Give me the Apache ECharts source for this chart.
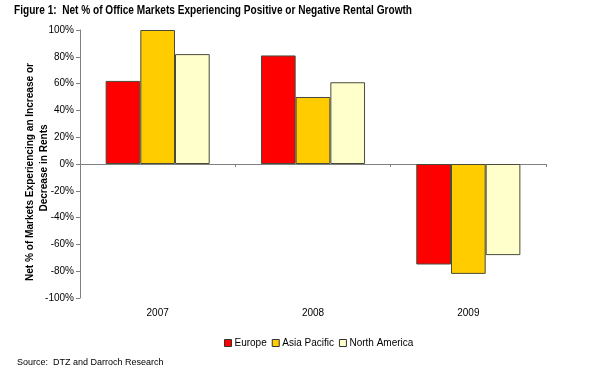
<!DOCTYPE html>
<html><head><meta charset="utf-8">
<script src="https://cdn.jsdelivr.net/npm/echarts@6/dist/echarts.min.js"></script>
<style>html,body{margin:0;padding:0;background:#fff}#c{width:600px;height:369px}</style>
</head><body><div id="c"></div>
<script>
var categories = ['2007', '2008', '2009'];
var europe = [62, 81, -75];
var asiaPacific = [100, 50, -82];
var northAmerica = [82, 61, -68];
var yTicks = [-100, 100, 20];
var titleText = 'Figure 1:  Net % of Office Markets Experiencing Positive or Negative Rental Growth';
var yNameLines = ['Net % of Markets Experiencing an Increase or', 'Decrease in Rents'];

var ctx = document.createElement('canvas').getContext('2d');
function fitScale(text, font, target) { ctx.font = font; return target / ctx.measureText(text).width; }
var titleFont = 'bold 13px "Liberation Sans"';
var titleScale = fitScale(titleText, titleFont, 398);
var nameFont = 'bold 11px "Liberation Sans"';
var nameScale = fitScale(yNameLines[0], nameFont, 218);

var chart = echarts.init(document.getElementById('c'), null, {renderer: 'canvas'});
var border = '#4a4a3a';
function s(name, data, color) {
  return {name: name, type: 'bar', data: data, xAxisIndex: 0, barGap: '0%', barCategoryGap: '33%',
    itemStyle: {color: color, borderColor: border, borderWidth: 1}};
}
chart.setOption({
  animation: false,
  grid: {left: 80, right: 54, top: 30, bottom: 71},
  legend: {top: 333, left: 219, icon: 'rect', itemWidth: 7, itemHeight: 7, itemGap: 5,
    textStyle: {fontFamily: 'Liberation Sans', fontSize: 10, color: '#000', padding: [0, 0, 0, -2]},
    itemStyle: {borderColor: '#333', borderWidth: 1},
    data: ['Europe', 'Asia Pacific', 'North America']},
  xAxis: [
    {type: 'category', data: categories, axisLine: {onZero: true, lineStyle: {color: '#808080'}},
      axisTick: {show: true, length: 3, lineStyle: {color: '#808080'}}, axisLabel: {show: false}},
    {type: 'category', data: categories, position: 'bottom', axisLine: {show: false, onZero: false},
      axisTick: {show: false}, axisLabel: {margin: 10, fontFamily: 'Liberation Sans', fontSize: 10, color: '#000'}}
  ],
  yAxis: {type: 'value', min: yTicks[0], max: yTicks[1], interval: yTicks[2],
    axisLine: {show: true, lineStyle: {color: '#808080'}},
    axisTick: {show: true, length: 4, lineStyle: {color: '#808080'}},
    splitLine: {show: false},
    axisLabel: {formatter: '{value}%', fontFamily: 'Liberation Sans', fontSize: 10, color: '#000', margin: 6}},
  graphic: [
    {type: 'text', x: 14, y: 10, scaleX: titleScale,
      style: {text: titleText, font: titleFont, fill: '#000', align: 'left', verticalAlign: 'middle'}},
    {type: 'text', x: 30, y: 172, rotation: Math.PI / 2, scaleX: nameScale,
      style: {text: yNameLines[0], font: nameFont, fill: '#000', align: 'center', verticalAlign: 'middle'}},
    {type: 'text', x: 44, y: 168, rotation: Math.PI / 2, scaleX: nameScale,
      style: {text: yNameLines[1], font: nameFont, fill: '#000', align: 'center', verticalAlign: 'middle'}},
    {type: 'text', left: 17, top: 358,
      style: {text: 'Source:  DTZ and Darroch Research', font: '9px "Liberation Sans"', fill: '#000'}}],
  series: [s('Europe', europe, '#ff0000'), s('Asia Pacific', asiaPacific, '#ffcc00'), s('North America', northAmerica, '#ffffcc')]
});
</script></body></html>
